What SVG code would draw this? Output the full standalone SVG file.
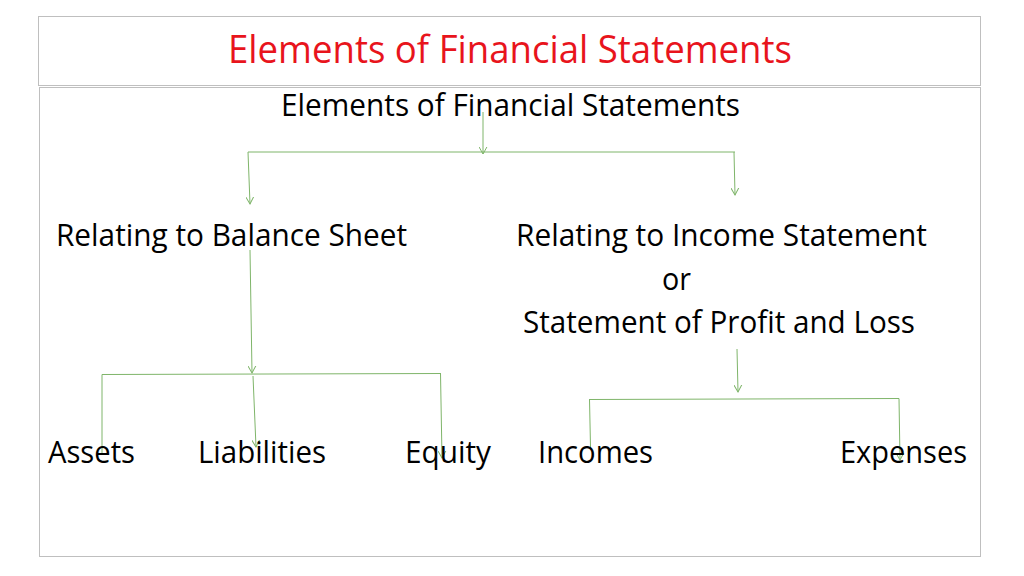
<svg xmlns="http://www.w3.org/2000/svg" width="1024" height="576" viewBox="0 0 1024 576">
<style>
.box{fill:#fff;stroke:#BFBFBF;stroke-width:1}
.t{font-family:"Open Sans","Noto Sans","Liberation Sans",sans-serif;fill:#000;font-size:31px}
.title{font-family:"Open Sans","Noto Sans","Liberation Sans",sans-serif;fill:#E8141C;font-size:38px}
.c{fill:none;stroke:#7FB56A;stroke-width:1}
</style>
<defs>
<marker id="arr" markerUnits="userSpaceOnUse" markerWidth="14" markerHeight="14" viewBox="-7 -10 14 14" refX="0" refY="0" orient="auto-start-reverse">
<path d="M-5,-9 L0,0 L5,-9" fill="none" stroke="#7FB56A" stroke-width="1" transform="rotate(-90)"/>
</marker>
</defs>
<rect width="1024" height="576" fill="#fff"/>
<rect class="box" x="38.5" y="16.5" width="942" height="69"/>
<rect class="box" x="39.5" y="87.5" width="941" height="469"/>
<g id="connectors">
<line class="c" x1="483" y1="112" x2="483" y2="154" marker-end="url(#arr)"/>
<polyline class="c" points="248,152 735,152"/>
<line class="c" x1="248" y1="152" x2="250" y2="204" marker-end="url(#arr)"/>
<line class="c" x1="734" y1="152" x2="735" y2="195" marker-end="url(#arr)"/>
<line class="c" x1="250" y1="250" x2="252" y2="373" marker-end="url(#arr)"/>
<polyline class="c" points="102,374.5 441,373.5"/>
<line class="c" x1="102" y1="374.5" x2="102" y2="453"/>
<line class="c" x1="253" y1="376" x2="256" y2="447" marker-end="url(#arr)"/>
<line class="c" x1="440.5" y1="373.5" x2="442" y2="458" marker-end="url(#arr)"/>
<line class="c" x1="737" y1="349" x2="738" y2="392" marker-end="url(#arr)"/>
<polyline class="c" points="589,399.5 899,398.5"/>
<line class="c" x1="589.5" y1="399.5" x2="590.5" y2="447"/>
<line class="c" x1="899" y1="398.5" x2="900" y2="460" marker-end="url(#arr)"/>
</g>
<g id="title"><text class="title" x="228" y="63" textLength="564" lengthAdjust="spacingAndGlyphs">Elements of Financial Statements</text></g>
<g id="root"><text class="t" x="281" y="116" textLength="459" lengthAdjust="spacingAndGlyphs">Elements of Financial Statements</text></g>
<g id="balance"><text class="t" x="56" y="246" textLength="351" lengthAdjust="spacingAndGlyphs">Relating to Balance Sheet</text></g>
<g id="income">
<text class="t" x="516" y="246" textLength="411" lengthAdjust="spacingAndGlyphs">Relating to Income Statement</text>
<text class="t" x="662" y="290" textLength="29" lengthAdjust="spacingAndGlyphs">or</text>
<text class="t" x="523" y="333" textLength="392" lengthAdjust="spacingAndGlyphs">Statement of Profit and Loss</text>
</g>
<g id="assets"><text class="t" x="48" y="463" textLength="87" lengthAdjust="spacingAndGlyphs">Assets</text></g>
<g id="liabilities"><text class="t" x="198" y="463" textLength="128" lengthAdjust="spacingAndGlyphs">Liabilities</text></g>
<g id="equity"><text class="t" x="405" y="463" textLength="86" lengthAdjust="spacingAndGlyphs">Equity</text></g>
<g id="incomes"><text class="t" x="538" y="463" textLength="115" lengthAdjust="spacingAndGlyphs">Incomes</text></g>
<g id="expenses"><text class="t" x="840" y="463" textLength="127" lengthAdjust="spacingAndGlyphs">Expenses</text></g>
</svg>
